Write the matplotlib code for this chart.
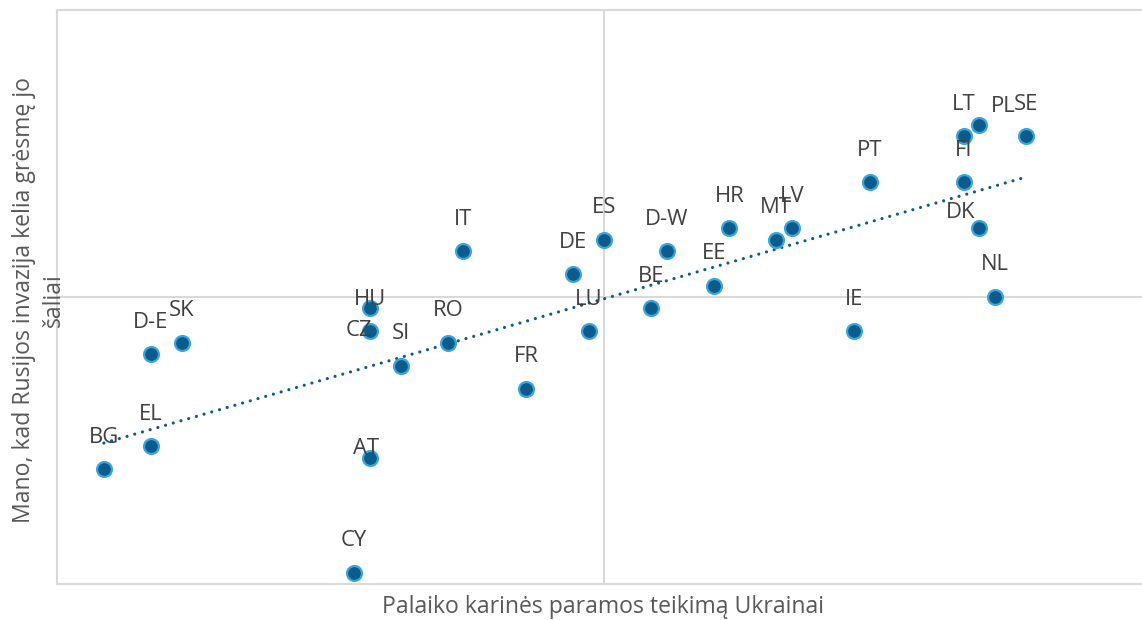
import numpy as np
import matplotlib
matplotlib.use("Agg")
import matplotlib.pyplot as plt

plt.rcParams['font.family'] = ['Open Sans', 'DejaVu Sans']

countries = ["BG", "EL", "D-E", "SK", "CY", "HU", "CZ", "AT", "SI", "RO",
             "IT", "FR", "DE", "LU", "ES", "BE", "D-W", "EE", "HR", "MT",
             "LV", "IE", "PT", "FI", "LT", "PL", "DK", "NL", "SE"]
support_military = [33, 36, 36, 38, 49, 50, 50, 50, 52, 55,
                    56, 60, 63, 64, 65, 68, 69, 72, 73, 76,
                    77, 81, 82, 88, 88, 89, 89, 90, 92]
threat_to_country = [50, 52, 60, 61, 41, 64, 62, 51, 59, 61,
                     69, 57, 67, 62, 70, 64, 69, 66, 71, 70,
                     71, 62, 75, 75, 79, 80, 71, 65, 79]

x_cross = 65
y_cross = 65

# label offsets (pixels) for manually moved labels; default is above
label_offsets = {"PL": (24, 18), "DK": (-19, 16), "HU": (0, 9),
                 "CZ": (-11, 1), "AT": (-4, 9)}

W, H = 1142, 620
fig = plt.figure(figsize=(W / 100, H / 100), dpi=100)
ax = fig.add_axes([57 / W, (H - 584) / H, (W - 57) / W, (584 - 10) / H])
ax.set_xlim(30, 99.4)
ax.set_ylim(40, 90)

grid_col = "#d9d9d9"
for s in ["left", "bottom", "top"]:
    ax.spines[s].set_color(grid_col)
    ax.spines[s].set_linewidth(1.5)
ax.spines["right"].set_visible(False)
ax.set_xticks([])
ax.set_yticks([])
ax.axvline(x_cross, color=grid_col, lw=1.5, zorder=1)
ax.axhline(y_cross, color=grid_col, lw=1.5, zorder=1)

x = np.array(support_military, dtype=float)
y = np.array(threat_to_country, dtype=float)

# linear trend line
k, b = np.polyfit(x, y, 1)
xs = np.array([x.min(), x.max()])
ax.plot(xs, k * xs + b, color="#0b5b8c", lw=2.3,
        linestyle=(0, (0.01, 2.5)), dash_capstyle="round", zorder=2)

ax.scatter(x, y, s=115, color="#0b5b8c", edgecolors="#3aa6dd",
           linewidths=1.6, zorder=3)

for c, xi, yi in zip(countries, x, y):
    dx, dy = label_offsets.get(c, (0, 32))
    ax.annotate(c, (xi, yi), xytext=(dx * 0.72, dy * 0.72),
                textcoords="offset points", ha="center", va="center",
                fontsize=15.8, color="#404040", zorder=4)

fig.text(603 / W, 1 - 607 / H, "Palaiko karinės paramos teikimą Ukrainai",
         ha="center", va="center", fontsize=16.6, color="#595959")
fig.text(39 / W, 1 - 300 / H, "Mano, kad Rusijos invazija kelia grėsmę jo\nšaliai",
         ha="center", va="center", rotation=90, fontsize=16.6, color="#595959",
         multialignment="center", linespacing=1.3)

fig.savefig("out.png", dpi=100)
